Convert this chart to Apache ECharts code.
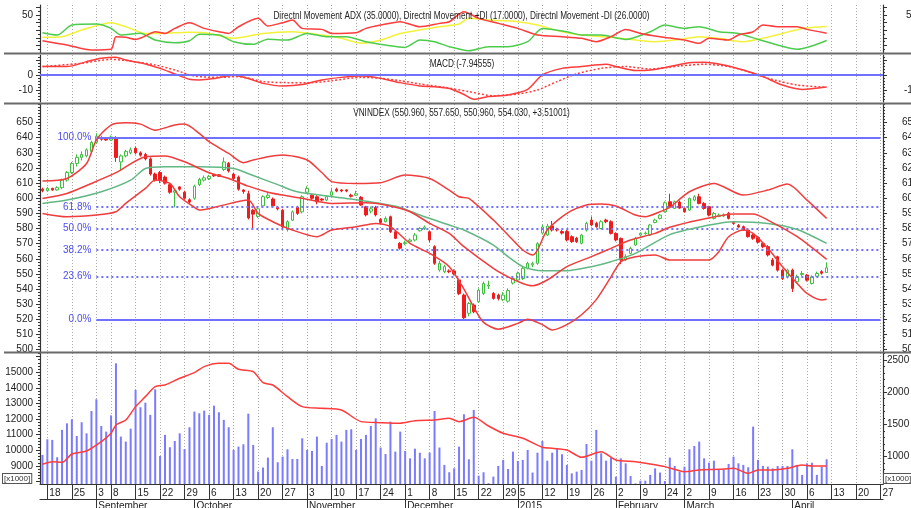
<!DOCTYPE html>
<html><head><meta charset="utf-8">
<script src="https://cdn.jsdelivr.net/npm/echarts@6/dist/echarts.min.js"></script>
<style>html,body{margin:0;padding:0;background:#fff}#c{width:911px;height:508px}</style>
</head><body><div id="c"></div><script>
// ---------- calendar ----------
const firstDay = '2014-08-15', lastDay = '2015-04-27';
const holidays = ['2014-09-01','2014-09-02','2015-01-01','2015-01-02','2015-02-16','2015-02-17','2015-02-18','2015-02-19','2015-02-20','2015-02-23'];
const monthNames = ['2015','February','March','April','May','June','July','August','September','October','November','December'];

// ---------- price (VNINDEX) ----------
const opens  = [606,605,606.5,605.5,607,612,617,623,627,628,631,637,640,639.5,638.5,640,624,628,630,633,630,629,626,616,617,614,609,604,607.5,604,599,600,609,612,613,615.5,615.5,619,623,616,614,605.5,603,592,588,595,600.5,599.5,594,592,579.5,585.5,594,591,604,602,601,599.5,598.8,602,606,605.5,605.5,602,602,600.6,594.4,591.5,594,586,584.5,587.8,577.9,570.2,570,571.5,572.4,578.5,580,577.9,568,552.6,551.5,552,552,546,536,524,529.4,531.6,537.1,542,537.1,536,533,532,544,546,547,553.7,556,557,577,575.7,581.6,579.5,578,578,574.6,573.5,570.2,579,585.6,583.4,580,585.6,584.5,576.8,573.5,559.2,563.6,569.1,575.7,576.5,575.7,584,586.7,591.1,597.7,593.3,597.5,593.3,592.2,598.8,601,596.6,594.4,586.7,588,588.3,590,584,582,581.2,579,575.7,574,570.2,568,559.2,561.4,552.5,548.1,552.5,544.8,549.5,549.2,543.7,548.5,551.5,550.96];
const closes = [605,606.5,605.5,607,612,617,623,627,629,632,637,641,639,638.5,640.5,627,628,631,632,630,628.5,626,616,612,612,610,604,605,606,600,597.5,608,612.5,613.5,614.5,614.8,614.5,624,618,613,606,604.5,587,589.5,593,601,602,595,593,581,584.5,591,590,601,606.5,600,597.7,598.8,601,604.3,604.8,604.8,604.8,601.3,603,595.5,589,593,589,584,586.7,578,573.5,567,570.6,572.4,575.7,580.1,581,572.4,557,557,554.8,551.5,550,537,521,530.5,525,539.3,543.7,542.6,533.8,533.8,536,539,547,550.5,553.7,557,556.8,570,581,581.6,579,579,577,572.4,571.3,571.3,575.7,583.4,582.3,581.2,584.5,584.5,576.8,572.4,559.2,561.4,566.9,573.5,576.8,577,582.3,585.6,588.9,597,594.4,597.7,593.5,591.1,599.9,601,596.6,593.3,588.9,590,588.9,588.9,586.7,583.4,581,579,574.6,573.5,571,568,562.5,555.8,552.5,547,552.5,540.4,548.1,550.3,545.9,548.1,550.3,550.5,554.03];
const lows   = [604,604.5,605,605,606,611,616,621,625,627,630,636,638,638,638,624,618,627,629,629,627.5,625,615,611,610,609,603,594,605,599,596,599,608,611,612,614,614,618,617,612,605,603,586,579,587,594,599.5,594,592,580,578,585,589,590,603,599,596,598,598,601,604,604,604,600.5,601.5,595,588,590,588,583,584,577,573,566,569,570.5,571.5,578,579,571,556,551.5,550.5,550.5,549,536,519.5,522,524,531,536,540,533,532.5,532,531,543,545,546,553,554.5,556,576,575,578,578,576,571.5,570.5,570.5,569.5,578,581.5,580.5,579.5,583.5,576,571.5,556.5,558.5,563,568.5,575,576,575,583.5,586,590.5,593.5,593,593,590.5,591.5,598,596,592.5,588,586,587.5,587.5,586,582.5,580.5,578.5,574,572.5,570,567,561.5,555,551.5,546,547,538,543.5,548.5,545,543,548,549.5,550.96];
const highs  = [607,607.5,607,608,613,618,624,629,631,633,638,643,641,640.5,641.5,641,629,632,633.5,634,631,630,627,617,618,615,610,606,608,605,600,609,613.5,615,615.5,616,616,627,624,617,615,606,605,593,594,602,603.5,600.5,595,593,585.5,592,595,602,608,603,602,600,602,607,607,606,606,603,605,601.5,595,594.5,595,587,588,588.5,578.5,571,572,573.5,577,581,582,578.5,569,558.5,556,553,553,547,537,531.5,530.5,540.5,545,545.5,538,537,538,540.5,548,551.5,555,558,558,571,582.5,583,585,580.5,579,579,575.5,574.5,576.5,584.5,588,584.5,585.5,586.5,585.5,577.5,574,563,568,574.5,577.5,578,583,586.5,589.5,598,603,598.5,598.5,594,600.5,602,603,597.5,595,591,590,590,591,585,583,582,580,576.5,575,571,569,560.5,562,553.5,553.5,553.5,549.5,552,550,549,551.5,552.5,557.65];

// ---------- price overlays [trading-day index, value] ----------
const bbUpper  = [[0,611.4],[5,613.1],[9,623],[11,638.5],[14,648.4],[17,649.9],[20,649],[23,645],[27,648.4],[29,649],[32,642.9],[34,637.4],[38,629.6],[41,623.5],[43,625.3],[46,627.5],[49,628.6],[54,625.3],[57,617],[59,611],[64,609.8],[69,610.3],[74,615.3],[79,613.1],[83,605.4],[85,601],[87,599.9],[92,585.6],[95,575.7],[98,565.8],[100,562.5],[101,565.8],[103,579],[107,590],[111,595.5],[114,596.2],[117,594.9],[121,588.9],[123,587.8],[126,591.1],[128,594],[132,604.3],[137,609.8],[143,602.1],[148,605.4],[152,609.4],[156,598.8],[160,586.7]];
const bbMiddle = [[0,599.9],[5,603.2],[10,609.8],[15,616.9],[21,627.4],[25,627.9],[29,624.1],[34,616.9],[38,613.1],[42,608],[46,604],[49,602.1],[53,600],[59,596.6],[66,597],[70,595.5],[75,591.1],[79,583.4],[83,576.8],[86,568],[92,553.7],[95,548.1],[98,543.7],[100,542.2],[103,546],[107,554.8],[112,561.4],[116,566.9],[120,572.4],[125,576.8],[128,580.8],[134,585.6],[141,589.6],[145,589.6],[148,585.6],[154,574.6],[160,559.6]];
const bbLower  = [[0,590],[5,587.8],[11,588.9],[15,591.1],[17,596.6],[21,606.5],[23,612],[26,609.8],[28,601],[31,594],[32,592.2],[36,594.8],[42,598.8],[44,590],[47,584.5],[51,579],[56,574.6],[59,579],[64,581.2],[68,583.4],[71,581.2],[75,570.2],[79,563.6],[83,554.8],[86,540],[88,528],[90,518],[93,513.5],[97,517.3],[99,520],[102,516.5],[104,513],[107,516.5],[110,523],[113,533],[116,548],[118,558],[121,561.4],[125,562.5],[128,559.2],[136,559.2],[138,564.7],[140,574.6],[143,579],[145,576.8],[148,566.9],[151,554.8],[154,543.7],[156,537.1],[159,532.7],[160,533.2]];
const maGreen  = [[0,596.6],[5,598.8],[12,604.3],[18,612],[21,619.7],[25,620.8],[32,620.8],[39,619.7],[43,615],[48,609],[52,604.3],[62,599.9],[69,596.6],[73,594],[77,588.9],[83,582.3],[86,579],[92,569.1],[95,561.4],[98,554.8],[102,552.1],[107,552.1],[112,554.8],[116,558.1],[121,563.6],[128,576],[135,581.6],[141,584.5],[148,583.4],[154,579.4],[160,570.2]];

// ---------- Fibonacci ----------
const fibHigh = 640, fibLow = 520, fibStartDate = '2014-09-03';
const fibRatios = [1, 0.618, 0.5, 0.382, 0.236, 0];
const fibLabels = ['100.0%','61.8%','50.0%','38.2%','23.6%','0.0%'];

// ---------- DMI ----------
const dmiADX     = [[0,20.6],[4,21.5],[8,30.2],[14,39.9],[17,34.6],[21,25.8],[24,25.8],[30,27.2],[34,25.8],[39,19.3],[45,25.8],[51,28],[57,23.6],[61,19.3],[65,12.7],[69,17.1],[73,25.8],[77,30.2],[81,34.6],[85,38.1],[87,45.6],[91,43.4],[97,41.2],[101,36.8],[106,28],[110,23.6],[116,20.6],[121,17.1],[125,14.9],[130,17.9],[134,21.5],[138,19.3],[143,14.9],[147,19.3],[151,25.8],[155,32.4],[160,35]];
const dmiPlusDI  = [[0,26.7],[3,23.7],[6,36.8],[11,38.2],[14,32.5],[16,23.7],[20,25.9],[23,17.1],[27,13.6],[30,16.2],[32,24.6],[36,23.7],[39,14.9],[43,11.4],[46,18],[50,17.1],[54,25.8],[58,21.5],[62,21.5],[66,14.9],[70,10.5],[74,7.4],[77,17.1],[80,14.9],[83,8.3],[87,3],[91,8.3],[95,8.3],[99,14.9],[102,32.4],[107,28],[110,23.6],[114,23.6],[119,17.9],[124,28],[127,36.8],[131,32.4],[134,34.6],[138,28],[142,25.8],[146,17.9],[150,10.5],[154,4.8],[157,9.2],[160,16.5]];
const dmiMinusDI = [[0,16.2],[5,10.5],[10,3.9],[14,4.8],[15,21.5],[17,20.6],[19,17.9],[21,22.3],[23,28],[25,25.8],[27,32.4],[30,39.9],[33,32.4],[36,28],[38,25.8],[40,34.6],[44,45.6],[46,35.5],[49,39.9],[51,43.4],[53,32.4],[57,31.1],[59,25.8],[64,26.7],[66,32.4],[69,36.8],[73,41.2],[77,34.6],[81,39],[83,41.2],[86,54.4],[89,45.6],[93,39],[97,32.4],[101,23.6],[106,21.5],[110,19.3],[113,14.9],[116,21.5],[119,31.1],[122,25.8],[126,21.5],[131,17.1],[134,12.7],[136,19.3],[140,17.1],[142,23.6],[145,28],[147,36.8],[150,34.6],[154,34.6],[156,31.1],[160,26]];

// ---------- MACD ----------
const macdLine   = [[0,5.6],[5,5.6],[9,8.9],[12,11.1],[15,11.8],[17,10],[21,7.3],[24,4.4],[27,0.7],[30,-2.9],[32,-3.3],[35,-2.4],[39,-0.2],[42,-2.4],[45,-5.6],[49,-7.3],[53,-6.4],[57,-3.3],[61,-1.6],[65,-0.7],[68,-1.6],[73,-5.1],[77,-7.3],[80,-7.8],[83,-9],[85,-11.5],[86,-13],[88,-16.2],[91,-14.4],[95,-13.3],[99,-9.6],[102,0],[106,4.4],[110,5.6],[115,7.1],[117,5.6],[121,2.9],[124,3.3],[128,5.6],[132,8.2],[135,8.4],[139,6.7],[143,3.3],[147,-1.1],[151,-6.7],[155,-9.6],[160,-7.95]];
const macdSignal = [[0,5.6],[8,7.8],[14,10.4],[17,9.6],[23,6.7],[27,3.3],[31,-0.7],[36,-1.6],[40,-1.1],[45,-4.4],[50,-5.1],[55,-5.1],[59,-3.8],[65,-1.6],[69,-2.2],[73,-3.8],[77,-6],[82,-8.2],[87,-11.1],[92,-13.8],[97,-12.7],[101,-10],[105,-4.4],[109,0.7],[114,4.4],[119,5.6],[124,4],[130,6],[135,7.1],[140,5.6],[144,2.2],[148,-2.2],[154,-6.7],[160,-8.2]];

// ---------- volume (x1000) ----------
const volumes = [9710,10710,10670,9560,11310,11730,11990,10920,11800,11090,12520,13270,11560,11200,12240,15570,10880,10560,11390,13860,12760,13050,12270,13910,9640,10990,10200,10600,11090,10090,11480,12480,12370,12540,12270,12860,12440,11950,11480,10030,10240,10390,12350,10350,8640,8900,9540,11480,9240,9600,10070,9450,9450,10770,10030,9960,10880,9000,10490,10730,10990,10560,11310,11350,10030,10730,10990,11560,12050,10180,9770,11840,9920,11200,9960,9490,10110,9850,9490,9850,12520,10180,9070,8600,8850,10240,12310,9430,12590,8380,8600,7900,8320,9000,9390,8810,9920,9320,9390,10030,8580,9850,10600,9340,9850,10130,9750,9070,8530,8640,8750,10410,9340,11310,9810,9340,9540,8320,9490,9170,8360,7890,8060,8060,8430,8850,8580,8040,9540,9000,8640,8960,10070,10280,10560,9490,9210,9340,8790,8790,9130,9600,9170,9070,8920,11520,9390,9000,8960,8850,9000,9000,9000,10070,9070,8430,9170,9210,8430,8960,9430];
const volumeMA = [[0,9108],[2,9279],[4,9236],[6,9769],[9,9961],[12,10558],[14,11092],[15,11625],[17,11945],[19,12798],[21,13438],[23,14078],[25,14184],[28,14611],[31,14974],[33,15358],[36,15571],[38,15571],[40,15187],[43,15038],[45,14334],[47,14184],[50,13438],[53,12798],[57,12692],[61,12585],[65,11838],[69,11774],[73,11731],[76,11902],[80,11945],[83,12052],[85,11838],[88,12116],[91,11561],[94,11092],[98,10772],[102,10196],[104,10132],[107,10025],[110,9556],[114,9918],[117,9385],[121,9279],[124,9129],[127,8959],[131,8639],[134,8745],[138,8788],[141,8852],[144,8532],[146,8745],[149,8745],[152,8852],[155,9065],[157,9001],[160,9001]];

// ---------- build trading calendar ----------
const dates = [];
(function(){
  let t = Date.parse(firstDay + 'T00:00:00Z'); const end = Date.parse(lastDay + 'T00:00:00Z');
  while (t <= end) { const d = new Date(t); const wd = d.getUTCDay(); const s = d.toISOString().slice(0,10);
    if (wd !== 0 && wd !== 6 && holidays.indexOf(s) < 0) dates.push(s); t += 86400000; }
})();
const weekKey = s => Math.floor((Date.parse(s + 'T00:00:00Z') / 86400000 + 3) / 7);
const weekStart = dates.map((s,i) => i > 0 && weekKey(s) !== weekKey(dates[i-1]));
const monthStart = dates.map((s,i) => i > 0 && s.slice(0,7) !== dates[i-1].slice(0,7));
const pts = arr => arr.map(p => [dates[p[0]], p[1]]);

const FONT = "'Liberation Sans',Arial,sans-serif";
const AXC = '#333';
const range = (a,b,s) => { const r=[]; for (let v=a; v<=b+1e-9; v+=s) r.push(Math.round(v*100)/100); return r; };

const grids = [
  {left:40, right:28, top:5,   height:48, outerBoundsMode:'none', containLabel:false},
  {left:40, right:28, top:55,  height:47, outerBoundsMode:'none', containLabel:false},
  {left:40, right:28, top:104, height:248, outerBoundsMode:'none', containLabel:false},
  {left:40, right:28, top:353, height:131, outerBoundsMode:'none', containLabel:false}
];

function yPair(g, min, max, labelsL, labelsR, ticks, minor, mL, mR){
  const lab = (vals, m) => ({show:true, customValues: vals, margin: m, color:'#222', fontSize:10, fontFamily:FONT, formatter: v => String(v)});
  const base = (pos, vals, m) => ({type:'value', gridIndex:g, position:pos, min:min, max:max, scale:true,
    axisLine:{show:true, onZero:false, lineStyle:{color:AXC, width:1.2}},
    axisTick:{show:true, customValues: ticks, length:4, lineStyle:{color:AXC}},
    axisLabel: lab(vals, m), splitLine:{show:false}});
  const mino = pos => ({type:'value', gridIndex:g, position:pos, min:min, max:max, scale:true,
    axisLine:{show:false}, axisLabel:{show:false}, splitLine:{show:false},
    axisTick:{show:true, customValues: minor, length:2, lineStyle:{color:AXC}}});
  return [base('left', labelsL, mL), base('right', labelsR, mR), mino('left'), mino('right')];
}

const yAxes = [].concat(
  yPair(0, 0, 63.2, [50], [50], range(0,60,10), range(5,55,10), 7, 23),
  yPair(1, -18, 13.3, [0,-10], [-10], [-10,0,10], range(-16,12,2), 7, 21),
  yPair(2, 498.4, 662.3, range(500,650,10), range(500,650,10), range(500,650,10), range(500,662,2), 7, 19),
  yPair(3, 7848, 16230, range(9000,15000,1000), [], range(8000,16000,1000), range(8000,16200,200), 7, 4)
);
// volume right axis has its own scale
yAxes[13] = Object.assign({}, yAxes[13], {min:576, max:2610, axisTick:{show:true, customValues:[1000,1500,2000,2500], length:4, lineStyle:{color:AXC}},
  axisLabel:{show:true, customValues:[1000,1500,2000,2500], margin:4, color:'#222', fontSize:10, fontFamily:FONT, formatter: v => String(v)}});
yAxes[15] = Object.assign({}, yAxes[15], {min:576, max:2610, axisTick:{show:true, customValues: range(600,2600,100), length:2, lineStyle:{color:AXC}}});

const gridSplit = {show:true, interval:(i)=>weekStart[i], alignWithLabel:true, lineStyle:{color:'#a8a8a8', width:1, type:[1,2]}};
const xAxes = [0,1,2,3].map(g => ({type:'category', gridIndex:g, data:dates, boundaryGap:true,
  axisLine:{show:g===3, onZero:false, lineStyle:{color:AXC, width:1.2}},
  axisTick:{show:g===3, interval:(i)=>weekStart[i], alignWithLabel:true, length:15, lineStyle:{color:AXC}},
  axisLabel:{show:g===3, interval:(i)=>weekStart[i], formatter: v => String(+v.slice(8)), align:'left', padding:[0,0,0,2], margin:4, color:'#222', fontSize:10, fontFamily:FONT},
  splitLine: gridSplit}));
xAxes.push({type:'category', gridIndex:3, data:dates, boundaryGap:true, position:'bottom', offset:15,
  axisLine:{show:true, onZero:false, lineStyle:{color:AXC, width:1.2}},
  axisTick:{show:true, interval:(i)=>monthStart[i], alignWithLabel:true, length:12, lineStyle:{color:AXC}},
  axisLabel:{show:true, interval:(i)=>monthStart[i], formatter: v => monthNames[+v.slice(5,7)-1], align:'left', padding:[0,0,0,2], margin:2, color:'#222', fontSize:10, fontFamily:FONT},
  splitLine:{show:false}});

const lineS = (xi, yi, data, color, width, type, z) => ({type:'line', xAxisIndex:xi, yAxisIndex:yi, data:pts(data), smooth:0.25,
  showSymbol:false, symbol:'none', silent:true, z: z||3, lineStyle:{color:color, width:width, type:type||'solid'}});

const fibMarks = fibRatios.map((r,k) => {
  const lvl = fibLow + r * (fibHigh - fibLow); const solid = (r === 1 || r === 0);
  return [{coord:[fibStartDate, lvl], lineStyle:{color:'#7171ff', width:2, type: solid ? 'solid' : [2,3]},
           label:{show:true, position:'start', formatter: fibLabels[k], color:'#4d4df0', fontSize:10, fontFamily:FONT, distance:5}},
          {coord:[dates[dates.length-1], lvl]}];
});

const series = [
  lineS(0, 0, dmiADX, '#f2f23a', 1.5),
  lineS(0, 0, dmiPlusDI, '#4ccc4c', 1.5),
  lineS(0, 0, dmiMinusDI, '#ff3b3b', 1.5),
  Object.assign(lineS(1, 4, macdLine, '#ff3b3b', 1.5), {markLine:{silent:true, symbol:['none','none'], label:{show:false},
    lineStyle:{color:'#7171ff', width:2, type:'solid'}, data:[{yAxis:0}]}}),
  lineS(1, 4, macdSignal, '#ff3b3b', 1.5, [2,2]),
  {type:'line', xAxisIndex:2, yAxisIndex:8, data:[], symbol:'none', silent:true,
    markLine:{silent:true, symbol:['none','none'], data: fibMarks}},
  {type:'candlestick', xAxisIndex:2, yAxisIndex:8, barWidth:3, z:4,
    data: opens.map((o,i) => [o, closes[i], lows[i], highs[i]]),
    itemStyle:{color:'#ffffff', color0:'#ee1c1c', borderColor:'#3fbf3f', borderColor0:'#ee1c1c', borderWidth:1}},
  lineS(2, 8, maGreen, '#62b884', 1.5, 'solid', 5),
  lineS(2, 8, bbUpper, '#f03c3c', 1.5, 'solid', 5),
  lineS(2, 8, bbMiddle, '#f03c3c', 1.5, 'solid', 5),
  lineS(2, 8, bbLower, '#f03c3c', 1.5, 'solid', 5),
  {type:'bar', xAxisIndex:3, yAxisIndex:12, data: volumes, barWidth:2, itemStyle:{color:'#7b7bff'}, silent:true},
  lineS(3, 12, volumeMA, '#ff3b3b', 1.5, 'solid', 5)
];

const titleStyle = {fill:'#222', fontSize:11, fontFamily:FONT, textAlign:'center', textVerticalAlign:'middle'};
const title = (x, y, text) => ({type:'text', x:x, y:y, scaleX:0.75, z:100, silent:true, style:Object.assign({text:text}, titleStyle)});
const sep = y => ({type:'line', shape:{x1:4, y1:y, x2:911, y2:y}, style:{stroke:'#6a6a6a', lineWidth:2}, z:100, silent:true});
const boxText = (x, y) => ({type:'text', x:x, y:y, z:100, silent:true, style:{text:'[x1000]', fill:'#333', fontSize:8, fontFamily:FONT,
  borderColor:'#555', borderWidth:1, padding:[1,1,0,1], backgroundColor:'#fff'}});

const chart = echarts.init(document.getElementById('c'), null, {renderer:'canvas'});
chart.setOption({
  animation:false, backgroundColor:'#ffffff',
  grid: grids, xAxis: xAxes, yAxis: yAxes, series: series,
  graphic: [
    sep(53.5), sep(103.5), sep(352.5),
    title(461.5, 16, 'Directnl Movement ADX (35.0000), Directnl Movement +DI (17.0000), Directnl Movement -DI (26.0000)'),
    title(462, 64, 'MACD (-7.94555)'),
    title(461.5, 113, 'VNINDEX (550.960, 557.650, 550.960, 554.030, +3.51001)'),
    boxText(3, 474), boxText(884, 474)
  ]
});
</script></body></html>
